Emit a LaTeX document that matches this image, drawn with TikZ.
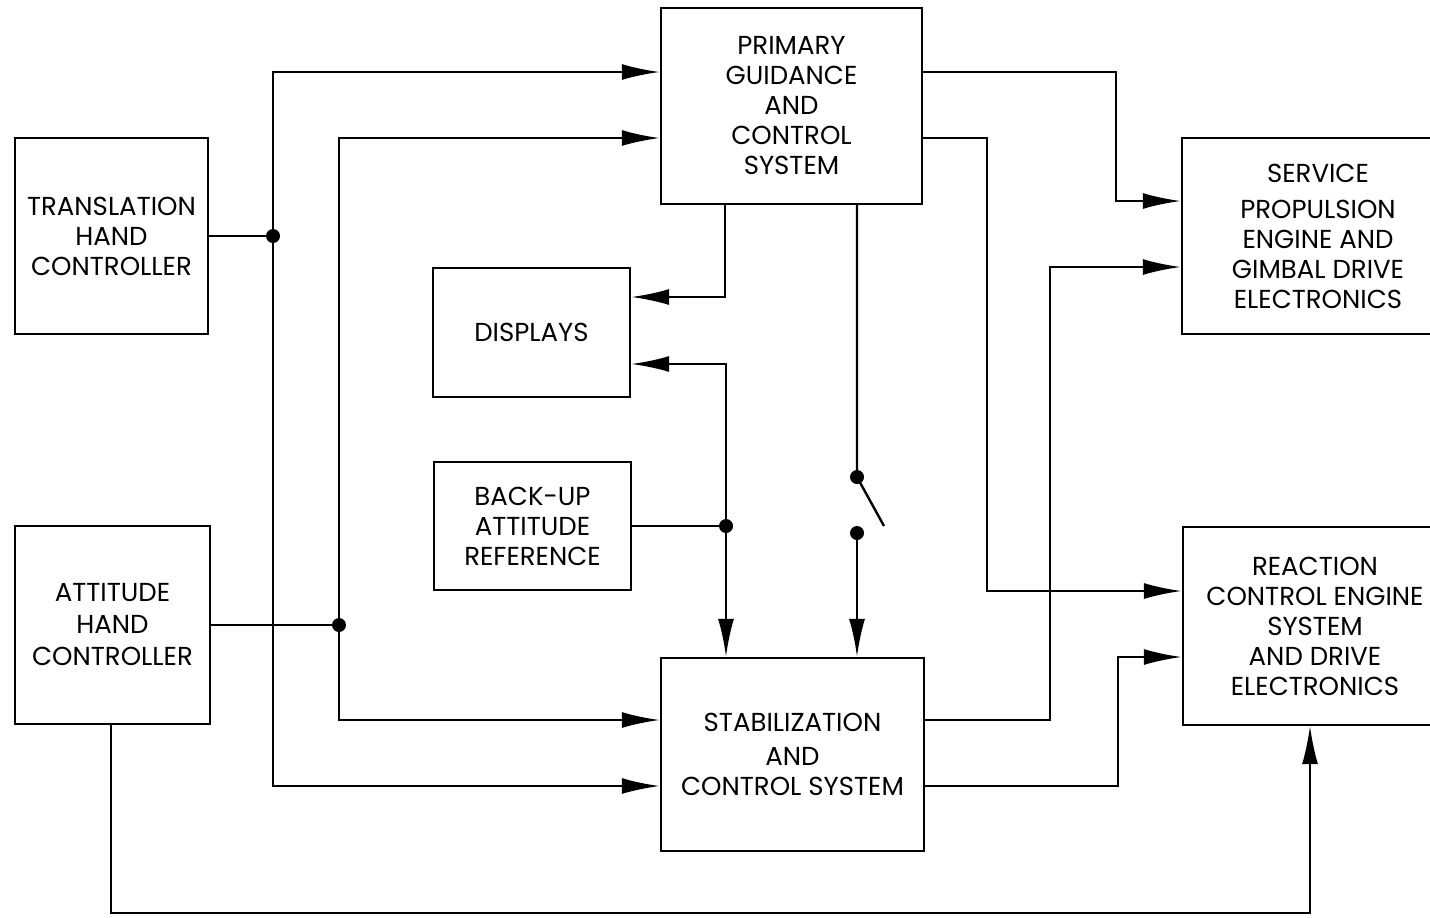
\documentclass[tikz,border=0pt]{standalone}
\usepackage{fontspec}
\setmainfont{Poppins}
\usetikzlibrary{arrows.meta}
\begin{document}
\begin{tikzpicture}[x=0.5pt,y=-0.5pt,
  box/.style={draw,line width=1.2pt,inner sep=0pt,align=center,
    font=\fontsize{13}{15}\selectfont},
  wire/.style={line width=1.2pt},
  arr/.style={wire,-{Latex[length=19pt,width=8pt]}},
  dot/.style={circle,fill,inner sep=0pt,minimum size=7pt}]
\useasboundingbox (0,0) rectangle (1430,917);
\clip (0,0) rectangle (1430,917);
% boxes
\node[box,minimum width=96.5pt,minimum height=98pt] (thc) at (111.5,236) {TRANSLATION\\HAND\\CONTROLLER};
\node[box,minimum width=97.5pt,minimum height=99pt] (ahc) at (112.5,625) {ATTITUDE\\[1pt]HAND\\[1pt]CONTROLLER};
\node[box,minimum width=130.5pt,minimum height=98pt] (pgcs) at (791.5,106) {PRIMARY\\GUIDANCE\\AND\\CONTROL\\SYSTEM};
\node[box,minimum width=98.5pt,minimum height=64.5pt] (disp) at (531.5,332.5) {DISPLAYS};
\node[box,minimum width=98.5pt,minimum height=64pt] (bar) at (532.5,526) {BACK-UP\\ATTITUDE\\REFERENCE};
\node[box,minimum width=131.5pt,minimum height=96.5pt] (scs) at (792.5,754.5) {STABILIZATION\\[2pt]AND\\CONTROL SYSTEM};
\node[box,minimum width=136pt,minimum height=98pt] (spe) at (1318,236) {SERVICE\\[3pt]PROPULSION\\ENGINE AND\\GIMBAL DRIVE\\ELECTRONICS};
\node[box,minimum width=132pt,minimum height=99pt] (rce) at (1315,626) {REACTION\\CONTROL ENGINE\\SYSTEM\\AND DRIVE\\ELECTRONICS};
% coordinates
\coordinate (j1) at (273,236);
\coordinate (t1) at (273,72);
\coordinate (b1) at (273,786);
\coordinate (j2) at (339,625);
\coordinate (t2) at (339,138);
\coordinate (b2) at (339,720);
\coordinate (c1) at (1116,72);
\coordinate (c2) at (1116,201);
\coordinate (c3) at (987,138);
\coordinate (c4) at (987,591);
\coordinate (d1) at (725,297);
\coordinate (j3) at (726,526);
\coordinate (d2) at (726,364);
\coordinate (s1) at (857,477);
\coordinate (s2) at (857,533);
\coordinate (s3) at (884,526);
\coordinate (e1) at (1050,720);
\coordinate (e2) at (1050,267);
\coordinate (e3) at (1118,786);
\coordinate (e4) at (1118,657);
\coordinate (f1) at (111,913);
\coordinate (f2) at (1310,913);
% connectors
\draw[wire] (thc.east) -- (j1);
\draw[arr] (j1) -- (t1) -- (pgcs.west |- t1);
\draw[arr] (j1) -- (b1) -- (scs.west |- b1);
\draw[wire] (ahc.east) -- (j2);
\draw[arr] (j2) -- (t2) -- (pgcs.west |- t2);
\draw[arr] (j2) -- (b2) -- (scs.west |- b2);
\draw[arr] (pgcs.east |- c1) -- (c1) -- (c2) -- (spe.west |- c2);
\draw[arr] (pgcs.east |- c3) -- (c3) -- (c4) -- (rce.west |- c4);
\draw[arr] (pgcs.south -| d1) -- (d1) -- (disp.east |- d1);
\draw[wire] (bar.east |- j3) -- (j3);
\draw[arr] (j3) -- (d2) -- (disp.east |- d2);
\draw[arr] (j3) -- (scs.north -| j3);
\draw[wire] (pgcs.south -| s1) -- (s1) -- (s3);
\draw[arr] (s2) -- (scs.north -| s2);
\draw[arr] (scs.east |- e1) -- (e1) -- (e2) -- (spe.west |- e2);
\draw[arr] (scs.east |- e3) -- (e3) -- (e4) -- (rce.west |- e4);
\draw[arr,line width=0.9pt] (ahc.south -| f1) -- (f1) -- (f2) -- (rce.south -| f2);
% dots
\node[dot] (n1) at (j1) {};
\node[dot] (n2) at (j2) {};
\node[dot] (n3) at (j3) {};
\node[dot] (n4) at (s1) {};
\node[dot] (n5) at (s2) {};
\end{tikzpicture}
\end{document}
